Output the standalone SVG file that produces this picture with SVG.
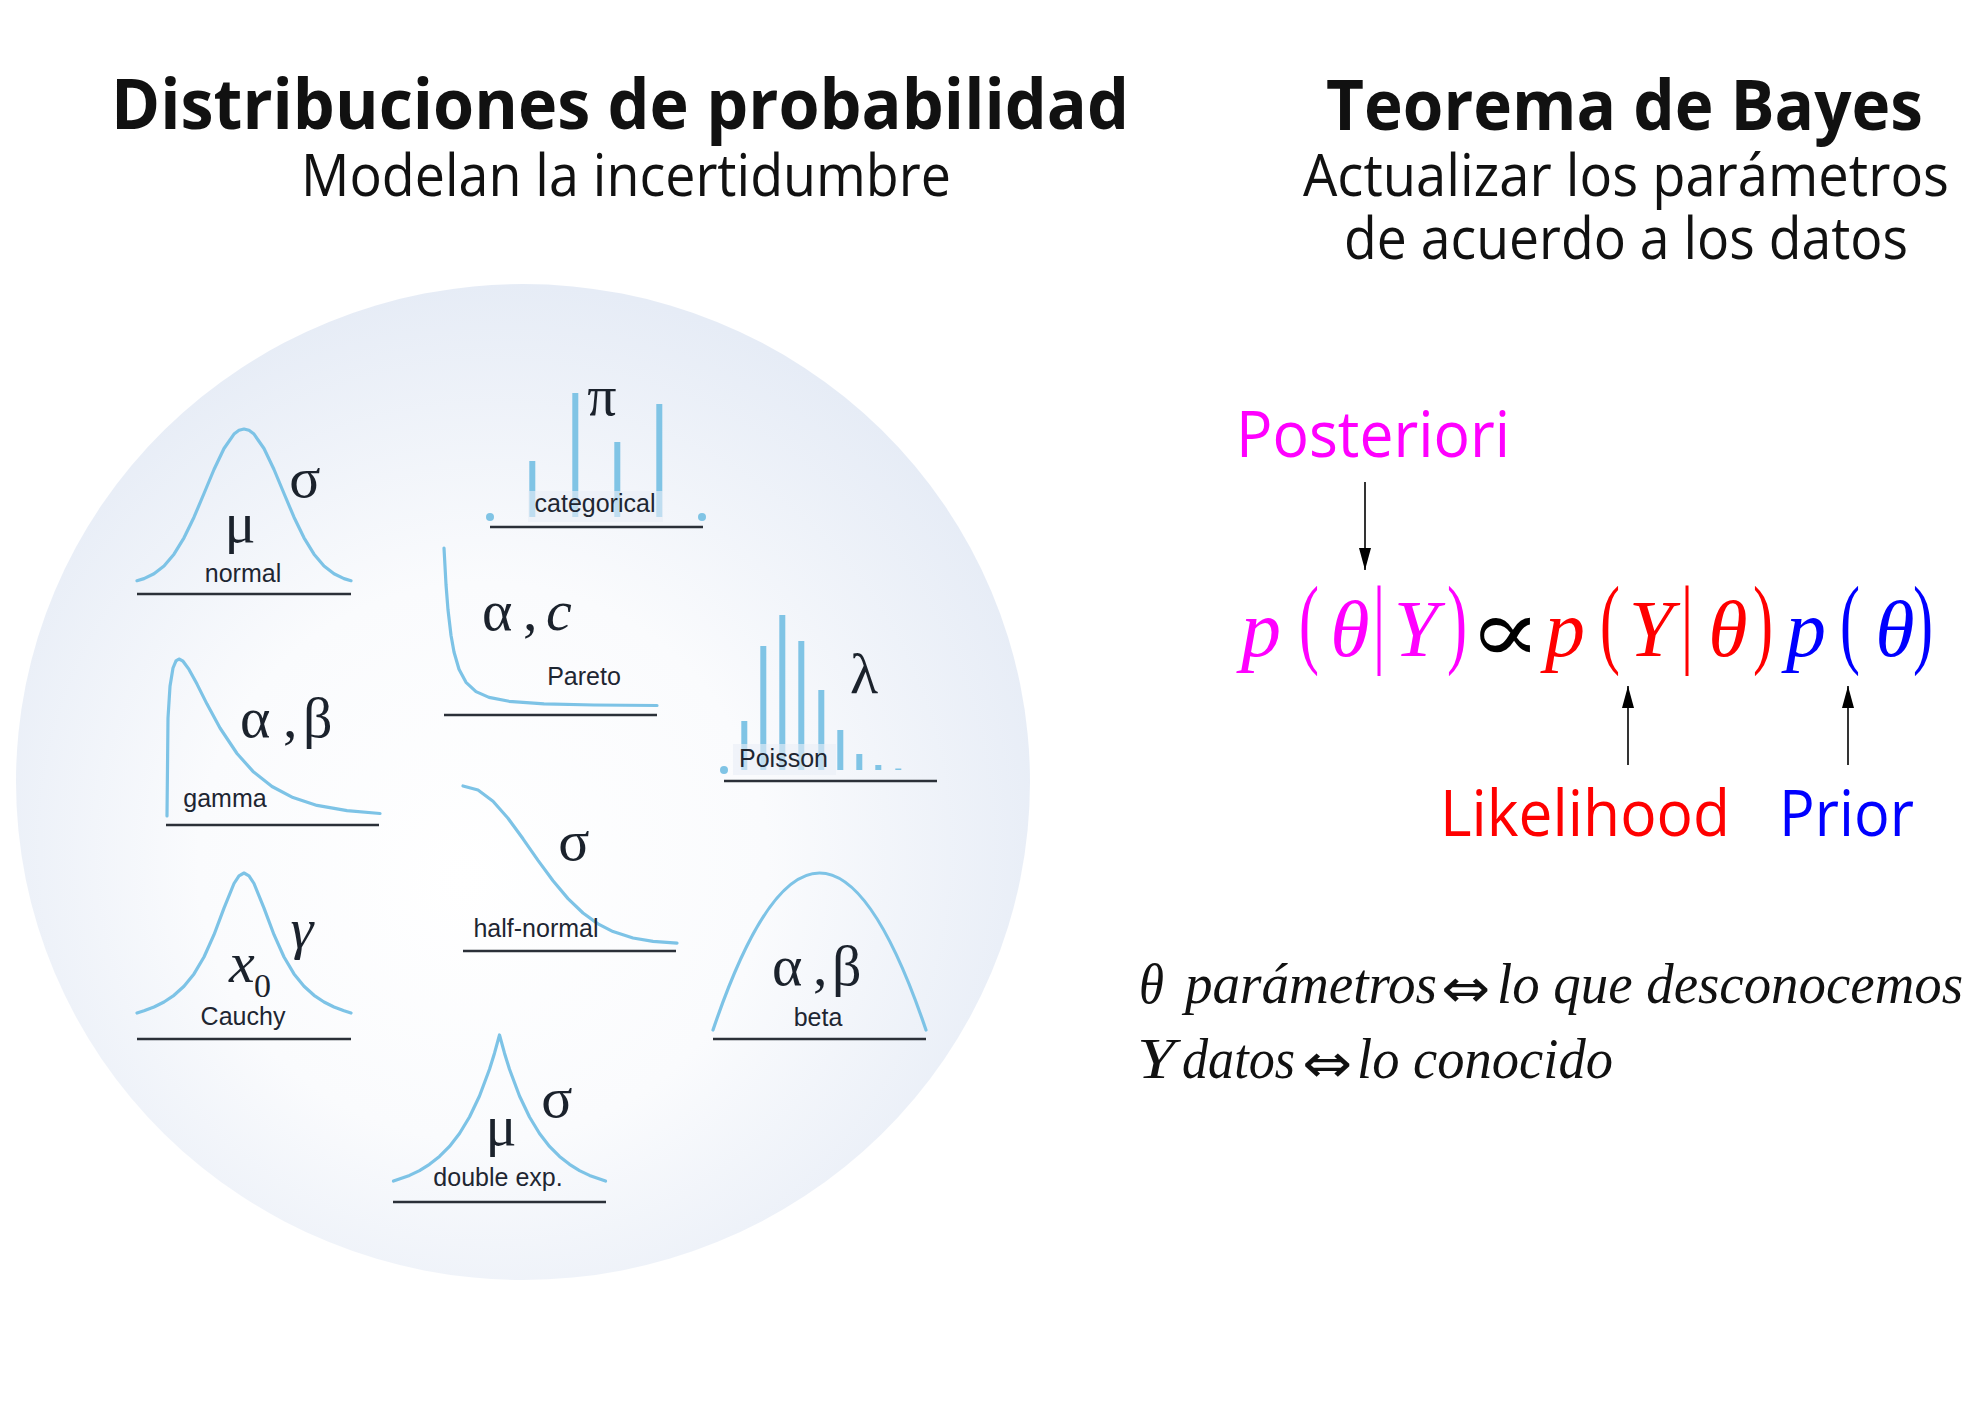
<svg xmlns="http://www.w3.org/2000/svg" width="1984" height="1403" viewBox="0 0 1984 1403">
<defs>
  <radialGradient id="bg" cx="0.48" cy="0.56" r="0.56" fx="0.44" fy="0.6">
    <stop offset="0" stop-color="#ffffff"/>
    <stop offset="0.5" stop-color="#fafbfd"/>
    <stop offset="1" stop-color="#e6ecf6"/>
  </radialGradient>
  <marker id="ah" viewBox="0 0 22 12" refX="22" refY="6" markerWidth="22" markerHeight="12" markerUnits="userSpaceOnUse" orient="auto">
    <path d="M0,0 L22,6 L0,12 z" fill="#000"/>
  </marker>
  <style>
    .ttl{font-family:"Open Sans","Noto Sans",sans-serif;font-weight:700;font-size:70px;fill:#111}
    .sub{font-family:"Open Sans","Noto Sans",sans-serif;font-size:58px;fill:#111}
    .curve{fill:none;stroke:#7dc3e6;stroke-width:3.2;stroke-linejoin:round;stroke-linecap:round}
    .axis{stroke:#2b3038;stroke-width:2.4}
    .bar{fill:#80c4e5}
    .lblbg{fill:#e9eef6;fill-opacity:0.6}
    .lbl{font-family:"Liberation Sans",Arial,sans-serif;font-size:25px;fill:#1e2632}
    .gk{font-family:"Liberation Serif","DejaVu Serif",serif;font-size:58px;fill:#1b222c}
    .it{font-style:italic}
    .eq{font-family:"Liberation Serif","DejaVu Serif",serif;font-style:italic;font-size:80px;text-anchor:middle}
    .par{font-family:"Liberation Serif","DejaVu Serif",serif;font-size:60px;text-anchor:middle}
    .big{font-family:"Open Sans","Noto Sans",sans-serif;font-size:64px}
    .txt{font-family:"Liberation Serif","DejaVu Serif",serif;font-style:italic;font-size:58px;fill:#111}
    .dar{font-family:"DejaVu Sans",sans-serif;font-size:54px;fill:#111}
    .mag{fill:#ff00ff}.red{fill:#ff0000}.blu{fill:#0000ff}
    .conn{stroke:#000;stroke-width:1.6;fill:none}
  </style>
</defs>

<rect x="0" y="0" width="1984" height="1403" fill="#ffffff"/>

<g id="titles">
  <text class="ttl" x="111" y="129" textLength="1018" lengthAdjust="spacingAndGlyphs">Distribuciones de probabilidad</text>
  <text class="sub" x="301" y="196" textLength="650" lengthAdjust="spacingAndGlyphs">Modelan la incertidumbre</text>
  <text class="ttl" x="1326" y="130" textLength="597" lengthAdjust="spacingAndGlyphs">Teorema de Bayes</text>
  <text class="sub" x="1303" y="196" textLength="646" lengthAdjust="spacingAndGlyphs">Actualizar los parámetros</text>
  <text class="sub" x="1344" y="259" textLength="564" lengthAdjust="spacingAndGlyphs">de acuerdo a los datos</text>
</g>

<g id="background-circle">
  <ellipse cx="523" cy="782" rx="507" ry="498" fill="url(#bg)"/>
</g>

<g id="normal">
  <path class="curve" d="M137,580.7 L144,578.6 L154,573.8 L164,566 L174,554.2 L184,537.8 L194,517.2 L204,493.5 L214,469.5 L224,448.5 L234,434.1 L239,430.3 L244,429 L249,430.3 L254,434.1 L264,448.5 L274,469.5 L284,493.5 L294,517.2 L304,537.8 L314,554.2 L324,566 L334,573.8 L344,578.6 L351,580.7"/>
  <line class="axis" x1="137" y1="594" x2="351" y2="594"/>
  <text class="gk" x="305" y="497" text-anchor="middle">σ</text>
  <text class="gk" x="240" y="542" text-anchor="middle">μ</text>
  <text class="lbl" x="243" y="582" text-anchor="middle">normal</text>
</g>

<g id="categorical">
  <rect class="bar" x="529.3" y="461" width="6" height="56"/>
  <rect class="bar" x="572.3" y="393" width="6" height="124"/>
  <rect class="bar" x="614.3" y="442" width="6" height="75"/>
  <rect class="bar" x="656.3" y="404" width="6" height="113"/>
  <circle class="bar" cx="490" cy="517" r="4"/>
  <circle class="bar" cx="702" cy="517" r="4"/>
  <rect class="lblbg" x="528" y="491" width="135" height="31"/>
  <line class="axis" x1="490" y1="527" x2="703" y2="527"/>
  <text class="gk" x="602" y="415" text-anchor="middle">π</text>
  <text class="lbl" x="595" y="512" text-anchor="middle">categorical</text>
</g>

<g id="pareto">
  <path class="curve" d="M444,548 L446,584.5 L448,609.8 L451,635.3 L454,652 L459,669.2 L466,682.3 L476,691.6 L489,697.4 L509,701.3 L544,703.8 L594,705 L657,705.5"/>
  <line class="axis" x1="444" y1="715" x2="657" y2="715"/>
  <text class="gk" x="482" y="630">α</text>
  <text class="gk" x="523" y="630">,</text>
  <text class="gk it" x="546" y="630">c</text>
  <text class="lbl" x="584" y="685" text-anchor="middle">Pareto</text>
</g>

<g id="poisson">
  <rect class="bar" x="741.3" y="721" width="6" height="49"/>
  <rect class="bar" x="760.3" y="646" width="6" height="124"/>
  <rect class="bar" x="779.3" y="615" width="6" height="155"/>
  <rect class="bar" x="798.3" y="641" width="6" height="129"/>
  <rect class="bar" x="818.3" y="690" width="6" height="80"/>
  <rect class="bar" x="837.3" y="730" width="6" height="40"/>
  <rect class="bar" x="856.3" y="754" width="6" height="16"/>
  <rect class="bar" x="875.3" y="765" width="6" height="5"/>
  <rect class="bar" x="895.3" y="768.5" width="6" height="1.5"/>
  <circle class="bar" cx="724" cy="770" r="4"/>
  <rect class="lblbg" x="733" y="744" width="103" height="31"/>
  <line class="axis" x1="724" y1="781" x2="937" y2="781"/>
  <text class="gk" x="864" y="693" text-anchor="middle">λ</text>
  <text class="lbl" x="739" y="767">Poisson</text>
</g>

<g id="gamma">
  <path class="curve" d="M167,816 L168,718 L170,686.3 L173,668 L176,660.9 L179,659 L183,661.2 L189,669.4 L197,684.1 L207,704.1 L220,728 L237,753.5 L253,771.4 L272,786.5 L293,797.6 L317,805.4 L347,810.7 L380,813.5"/>
  <line class="axis" x1="166" y1="825" x2="379" y2="825"/>
  <text class="gk" x="240" y="737">α</text>
  <text class="gk" x="283" y="737">,</text>
  <text class="gk" x="303" y="737">β</text>
  <text class="lbl" x="225" y="807" text-anchor="middle">gamma</text>
</g>

<g id="half-normal">
  <path class="curve" d="M463,786 L478,790 L493,801.3 L508,818.3 L523,838.8 L538,860.4 L553,880.8 L568,898.6 L583,913 L598,923.9 L613,931.6 L633,938 L653,941.3 L677,943.1"/>
  <line class="axis" x1="463" y1="951" x2="676" y2="951"/>
  <text class="gk" x="574" y="860" text-anchor="middle">σ</text>
  <text class="lbl" x="536" y="937" text-anchor="middle">half-normal</text>
</g>

<g id="cauchy">
  <path class="curve" d="M137,1013 L144,1010.8 L154,1007 L164,1002 L174,995.3 L184,986.2 L194,973.9 L204,957 L214,934.7 L224,908.1 L234,883.5 L239,875.8 L244,873 L249,875.8 L254,883.5 L264,908.1 L274,934.7 L284,957 L294,973.9 L304,986.2 L314,995.3 L324,1002 L334,1007 L344,1010.8 L351,1013"/>
  <line class="axis" x1="137" y1="1039" x2="351" y2="1039"/>
  <text class="gk it" x="302" y="948" text-anchor="middle">γ</text>
  <text class="gk it" x="229" y="982">x</text>
  <text class="gk" x="254" y="997" style="font-size:34px">0</text>
  <text class="lbl" x="243" y="1025" text-anchor="middle">Cauchy</text>
</g>

<g id="beta">
  <path class="curve" d="M713,1030 Q819.5,716 926,1030"/>
  <line class="axis" x1="713" y1="1039" x2="926" y2="1039"/>
  <text class="gk" x="772" y="985">α</text>
  <text class="gk" x="813" y="985">,</text>
  <text class="gk" x="832" y="985">β</text>
  <text class="lbl" x="818" y="1026" text-anchor="middle">beta</text>
</g>

<g id="double-exp">
  <path class="curve" d="M393.5,1181.1 L409.5,1175.4 L419.5,1170.6 L429.5,1164.3 L439.5,1156.4 L449.5,1146.4 L459.5,1133.5 L469.5,1117 L479.5,1096 L489.5,1069.2 L494.5,1053.2 L499.5,1035 L504.5,1053.2 L509.5,1069.2 L519.5,1096 L529.5,1117 L539.5,1133.5 L549.5,1146.4 L559.5,1156.4 L569.5,1164.3 L579.5,1170.6 L589.5,1175.4 L605.5,1181.1"/>
  <line class="axis" x1="393" y1="1202" x2="606" y2="1202"/>
  <text class="gk" x="557" y="1117" text-anchor="middle">σ</text>
  <text class="gk" x="501" y="1145" text-anchor="middle">μ</text>
  <text class="lbl" x="498" y="1186" text-anchor="middle">double exp.</text>
</g>

<g id="posteriori-label">
  <text class="big mag" x="1236" y="457" textLength="274" lengthAdjust="spacingAndGlyphs">Posteriori</text>
</g>

<g id="equation">
  <text class="eq mag" x="1261" y="656">p</text>
  <text class="par mag" transform="translate(1309,655) scale(1,1.65)">(</text>
  <text class="eq mag" x="1350" y="656">θ</text>
  <text class="par mag" transform="translate(1379,655) scale(1,1.65)">|</text>
  <text class="eq mag" x="1416" y="656">Y</text>
  <text class="par mag" transform="translate(1457,655) scale(1,1.65)">)</text>
  <text transform="translate(1505,662) scale(1.5,1.25)" style="font-family:'DejaVu Serif',serif;font-size:72px;text-anchor:middle;fill:#000">∝</text>
  <text class="eq red" x="1565" y="656">p</text>
  <text class="par red" transform="translate(1610,655) scale(1,1.65)">(</text>
  <text class="eq red" x="1651" y="656">Y</text>
  <text class="par red" transform="translate(1687,655) scale(1,1.65)">|</text>
  <text class="eq red" x="1728" y="656">θ</text>
  <text class="par red" transform="translate(1763,655) scale(1,1.65)">)</text>
  <text class="eq blu" x="1806" y="656">p</text>
  <text class="par blu" transform="translate(1850,655) scale(1,1.65)">(</text>
  <text class="eq blu" x="1895" y="656">θ</text>
  <text class="par blu" transform="translate(1923,655) scale(1,1.65)">)</text>
</g>

<g id="likelihood-label">
  <text class="big red" x="1440" y="836" textLength="290" lengthAdjust="spacingAndGlyphs">Likelihood</text>
</g>
<g id="prior-label">
  <text class="big blu" x="1779" y="836" textLength="135" lengthAdjust="spacingAndGlyphs">Prior</text>
</g>

<g id="connectors">
  <line class="conn" x1="1365" y1="482" x2="1365" y2="570" marker-end="url(#ah)"/>
  <line class="conn" x1="1628" y1="765" x2="1628" y2="686" marker-end="url(#ah)"/>
  <line class="conn" x1="1848" y1="765" x2="1848" y2="686" marker-end="url(#ah)"/>
</g>

<g id="definitions">
  <text class="txt" x="1139" y="1003" textLength="25" lengthAdjust="spacingAndGlyphs">θ</text>
  <text class="txt" x="1185" y="1003" textLength="252" lengthAdjust="spacingAndGlyphs">parámetros</text>
  <text class="dar" x="1441" y="1007" textLength="49" lengthAdjust="spacingAndGlyphs">⇔</text>
  <text class="txt" x="1497" y="1003" textLength="466" lengthAdjust="spacingAndGlyphs">lo que desconocemos</text>
  <text class="txt" x="1137" y="1078" textLength="38" lengthAdjust="spacingAndGlyphs">Y</text>
  <text class="txt" x="1182" y="1078" textLength="113" lengthAdjust="spacingAndGlyphs">datos</text>
  <text class="dar" x="1302" y="1082" textLength="50" lengthAdjust="spacingAndGlyphs">⇔</text>
  <text class="txt" x="1357" y="1078" textLength="256" lengthAdjust="spacingAndGlyphs">lo conocido</text>
</g>
</svg>
